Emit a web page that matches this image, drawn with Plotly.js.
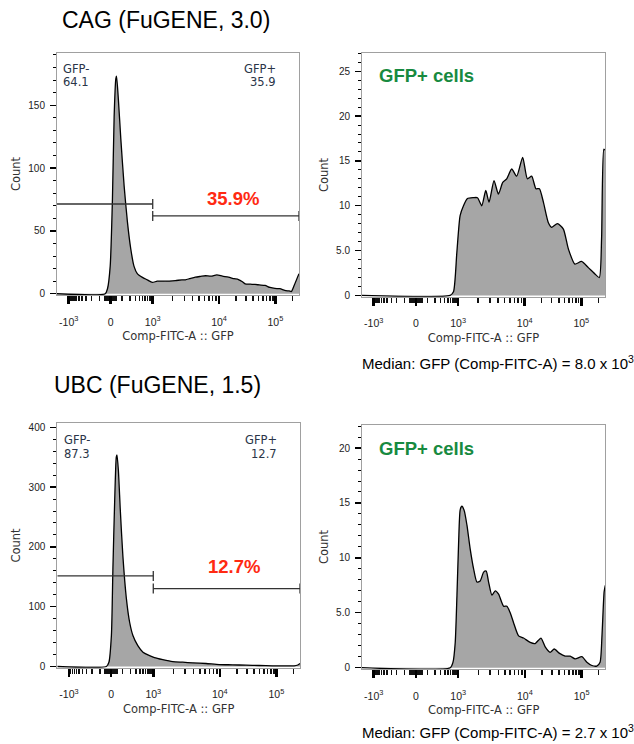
<!DOCTYPE html>
<html><head><meta charset="utf-8">
<script src="https://cdn.plot.ly/plotly-3.0.1.min.js"></script>
<style>html,body{margin:0;padding:0;background:#fff}#chart{width:634px;height:744px}</style>
</head><body><div id="chart"></div>
<script>
// ---------- data (GFP intensity, cell count) ----------
const cagAllX = [-1500, -45, -26, -4, 14, 28, 42, 48, 65, 88, 123, 165, 214, 273, 347, 497, 697, 970, 1170, 1560, 2200, 2750, 3110, 3600, 4400, 5300, 6210, 7600, 9270, 11500, 14700, 18500, 22100, 26000, 29000, 36000, 43500, 52000, 65300, 80000, 98000, 120000, 147000, 175000, 192000, 215000, 262000];
const cagAllY = [0, 0, 4, 22, 75, 141, 171, 173, 154, 123, 86, 57, 36, 22, 16, 13, 11, 9, 10, 10, 10.5, 11, 11.1, 12, 13.2, 13.8, 14.3, 14, 15, 14, 13.2, 12, 11.3, 9.5, 7.9, 7.6, 7.4, 7, 6.6, 5, 4.2, 4, 2.6, 2.2, 1.8, 6.6, 16];

const cagPosX = [-1500, 584, 732, 919, 1072, 1205, 1383, 1701, 1953, 2267, 2604, 2917, 3462, 4030, 4680, 5370, 6380, 7580, 9330, 11160, 13280, 15800, 18200, 21400, 26200, 29900, 37800, 48200, 59000, 77000, 101000, 133000, 174000, 208000, 228000, 250000, 262000];
const cagPosY = [0, 0, 0.4, 4.8, 8.9, 10, 10.8, 10.9, 10.9, 10, 11.7, 10.4, 12.8, 11.3, 12.6, 13, 14.1, 13.3, 15.4, 13, 13.3, 11.9, 11.9, 10.4, 8.1, 7.6, 8, 7.4, 5.2, 3.5, 3.8, 3.1, 2.4, 2, 6.3, 16.3, 16.2];

const ubcAllX = [-1500, -39, -18, 2, 14, 28, 42, 48, 60, 78, 104, 145, 189, 243, 347, 497, 697, 1042, 1388, 1960, 2768, 3905, 6210, 9800, 16800, 29000, 49700, 85500, 147000, 206000, 240000, 262000];
const ubcAllY = [0, 0, 7, 52, 162, 273, 350, 354, 329, 262, 185, 113, 74, 52, 35, 24, 19.4, 15, 11.6, 8.3, 7.2, 6.1, 5, 3.3, 2.8, 2.2, 1.7, 1.1, 1.1, 1, 2.5, 5];

const ubcPosX = [-1500, 584, 703, 818, 919, 1014, 1072, 1136, 1230, 1350, 1513, 1701, 1906, 2136, 2403, 2630, 2854, 3200, 3590, 4030, 4790, 5370, 6020, 6760, 8040, 9550, 12400, 15200, 19200, 22800, 27900, 32900, 40900, 51300, 62800, 77000, 101000, 124000, 152000, 185000, 212000, 229000, 250000, 262000];
const ubcPosY = [0, 0, 0.5, 2.3, 6.6, 11.4, 14.4, 14.7, 14.3, 13, 10.8, 9, 7.8, 7.9, 8.7, 8.8, 7.8, 6.6, 7, 6.7, 5.6, 5.6, 5, 4.1, 2.9, 2.7, 2.3, 2.2, 2.7, 1.9, 1.4, 1.7, 1.3, 1.05, 1.05, 0.8, 1, 0.5, 0.2, 0.15, 0.5, 2.9, 6.9, 7.5];

// axis ticks
const xTickValues = [-1000, 0, 1000, 10000, 100000];
const xTickLabels = ['-10<sup>3</sup>', '0', '10<sup>3</sup>', '10<sup>4</sup>', '10<sup>5</sup>'];
const xMinorValues = [-900, -800, -700, -600, -500, -400, -300, -200, -100, -50, -40, -30, -20, -10, 10, 20, 30, 40, 50,
  100, 200, 300, 400, 500, 600, 700, 800, 900, 2000, 3000, 4000, 5000, 6000, 7000, 8000, 9000,
  20000, 30000, 40000, 50000, 60000, 70000, 80000, 90000, 200000];
const xRange = [-1500, 262144];
const cagCountTicks = [0, 50, 100, 150];
const ubcCountTicks = [0, 100, 200, 300, 400];
const posCountTicks = [0, 5, 10, 15, 20, 25];
const posCountLabels = ['0', '5.0', '10', '15', '20', '25'];

// gates (GFP- / GFP+ bounds) and statistics
const gateNeg = [-1500, 1000];
const gatePos = [1000, 262144];
const cagGatePercents = [64.1, 35.9];
const ubcGatePercents = [87.3, 12.7];
const medianMantissa = ['8.0', '2.7'];
const medianExponent = [3, 3];

// ---------- biexponential-like display scale ----------
function T(v) {
  const a = Math.abs(v), s = Math.sign(v);
  const k0 = 15 * Math.asinh(1000 / 120);
  let d;
  if (a <= 1000) d = 15 * Math.asinh(a / 120);
  else if (a <= 10000) d = k0 + 66.7 * Math.log10(a / 1000);
  else d = k0 + 66.7 + 56.7 * Math.log10(a / 10000);
  return s * d;
}

const W = 634, H = 744;
const px = v => v / W;
const py = v => 1 - v / H;

const tickFont = {family: 'Liberation Sans, Arial, sans-serif', size: 10, color: '#222'};
const xTickFont = {family: 'Liberation Sans, Arial, sans-serif', size: 10.5, color: '#222'};
const titleFont = {family: 'DejaVu Sans, sans-serif', size: 11.5, color: '#333'};

function mkX(dom, anchor) {
  return {
    domain: dom, anchor: anchor, range: xRange.map(T),
    tickmode: 'array', tickvals: xTickValues.map(T), ticktext: xTickLabels,
    ticks: 'outside', ticklen: 8, tickwidth: 2.5, tickcolor: '#000',
    minor: {tickmode: 'array', tickvals: xMinorValues.map(T), ticks: 'outside', ticklen: 5, tickwidth: 1.5, tickcolor: '#111'},
    showline: true, linecolor: '#a0a0a0', linewidth: 1, mirror: true,
    showgrid: false, zeroline: false, tickfont: xTickFont, ticklabelstandoff: 9,
    title: {text: 'Comp-FITC-A :: GFP', font: titleFont, standoff: 5},
    fixedrange: true
  };
}
function mkY(dom, anchor, range, vals, labels, minorStep) {
  return {
    domain: dom, anchor: anchor, range: range,
    tickmode: 'array', tickvals: vals, ticktext: labels || vals.map(String),
    ticks: 'outside', ticklen: 6, tickwidth: 1.3, tickcolor: '#000',
    minor: {tickmode: 'linear', tick0: 0, dtick: minorStep, ticks: 'outside', ticklen: 3, tickwidth: 1, tickcolor: '#000'},
    showline: true, linecolor: '#a0a0a0', linewidth: 1, mirror: true,
    showgrid: false, zeroline: false, tickfont: tickFont, ticklabelstandoff: 3,
    title: {text: 'Count', font: titleFont, standoff: 5},
    fixedrange: true
  };
}

function hist(X, Y, xa, ya) {
  return {
    type: 'scatter', mode: 'lines', x: X.map(T), y: Y, xaxis: xa, yaxis: ya,
    line: {color: '#000', width: 1.3, shape: 'spline', smoothing: 0.6},
    fill: 'tozeroy', fillcolor: '#a6a6a6', hoverinfo: 'skip'
  };
}

const data = [
  hist(cagAllX, cagAllY, 'x', 'y'),
  hist(cagPosX, cagPosY, 'x2', 'y2'),
  hist(ubcAllX, ubcAllY, 'x3', 'y3'),
  hist(ubcPosX, ubcPosY, 'x4', 'y4')
];

function gateShapes(xa, ya, yNeg, yPos) {
  const ln = {color: '#333', width: 1.3};
  const cap = (x, y) => ({type: 'line', xref: xa, yref: ya, ysizemode: 'pixel', yanchor: y, x0: T(x), x1: T(x), y0: -5, y1: 5, line: ln});
  return [
    {type: 'line', xref: xa, yref: ya, x0: T(gateNeg[0]), x1: T(gateNeg[1]), y0: yNeg, y1: yNeg, line: ln},
    cap(gateNeg[1], yNeg),
    {type: 'line', xref: xa, yref: ya, x0: T(gatePos[0]), x1: T(gatePos[1]), y0: yPos, y1: yPos, line: ln},
    cap(gatePos[0], yPos), cap(gatePos[1], yPos)
  ];
}

const statFont = {family: 'DejaVu Sans, sans-serif', size: 11.5, color: '#2a3548'};
const boldRed = {family: 'Liberation Sans, Arial, sans-serif', size: 18.5, color: '#ff2a12', weight: 'bold'};
const boldGreen = {family: 'Liberation Sans, Arial, sans-serif', size: 18.5, color: '#178a40', weight: 'bold'};
const bigFont = {family: 'Liberation Sans, Arial, sans-serif', size: 23, color: '#000'};
const medFont = {family: 'Liberation Sans, Arial, sans-serif', size: 15, color: '#000'};

function ann(text, x, y, font, xanchor) {
  return {text: text, x: px(x), y: py(y), xref: 'paper', yref: 'paper', showarrow: false,
          xanchor: xanchor || 'center', yanchor: 'middle', font: font};
}

const annotations = [
  ann('CAG (FuGENE, 3.0)', 166.5, 20, bigFont),
  ann('UBC (FuGENE, 1.5)', 157.7, 385, bigFont),
  ann('GFP-', 61, 69.5, statFont, 'left'),
  ann(cagGatePercents[0].toFixed(1), 61, 82.5, statFont, 'left'),
  ann('GFP+', 278, 69.5, statFont, 'right'),
  ann(cagGatePercents[1].toFixed(1), 278, 82.5, statFont, 'right'),
  ann(cagGatePercents[1].toFixed(1) + '%', 233, 198, boldRed),
  ann('GFP-', 61.7, 440, statFont, 'left'),
  ann(ubcGatePercents[0].toFixed(1), 61.7, 454, statFont, 'left'),
  ann('GFP+', 279.3, 440, statFont, 'right'),
  ann(ubcGatePercents[1].toFixed(1), 279.3, 454, statFont, 'right'),
  ann(ubcGatePercents[1].toFixed(1) + '%', 233.5, 566.7, boldRed),
  ann('GFP+ cells', 377, 75.5, boldGreen, 'left'),
  ann('GFP+ cells', 377, 448.3, boldGreen, 'left'),
  ann('Median: GFP (Comp-FITC-A) = ' + medianMantissa[0] + ' x 10<sup>' + medianExponent[0] + '</sup>', 360, 362.5, medFont, 'left'),
  ann('Median: GFP (Comp-FITC-A) = ' + medianMantissa[1] + ' x 10<sup>' + medianExponent[1] + '</sup>', 360, 731.7, medFont, 'left')
];

const layout = {
  width: W, height: H, margin: {l: 0, r: 0, t: 0, b: 0},
  paper_bgcolor: '#fff', plot_bgcolor: '#fff', showlegend: false,
  font: {family: 'Liberation Sans, Arial, sans-serif', color: '#222'},
  xaxis:  mkX([px(57), px(299)], 'y'),
  yaxis:  mkY([py(295), py(53)], 'x', [-1, 191.5], cagCountTicks, null, 10),
  xaxis2: mkX([px(362), px(605)], 'y2'),
  yaxis2: mkY([py(296.7), py(53.3)], 'x2', [-0.14, 27], posCountTicks, posCountLabels, 1),
  xaxis3: mkX([px(57.3), px(300)], 'y3'),
  yaxis3: mkY([py(667.7), py(423.3)], 'x3', [-2, 406.7], ubcCountTicks, null, 20),
  xaxis4: mkX([px(362), px(605.3)], 'y4'),
  yaxis4: mkY([py(669), py(425)], 'x4', [-0.12, 22.1], posCountTicks.slice(0, 5), posCountLabels.slice(0, 5), 1),
  shapes: [].concat(gateShapes('x', 'y', 71.4, 61.9), gateShapes('x3', 'y3', 151.4, 130.4)),
  annotations: annotations
};

Plotly.newPlot('chart', data, layout, {displayModeBar: false, staticPlot: true});
</script>
</body></html>
